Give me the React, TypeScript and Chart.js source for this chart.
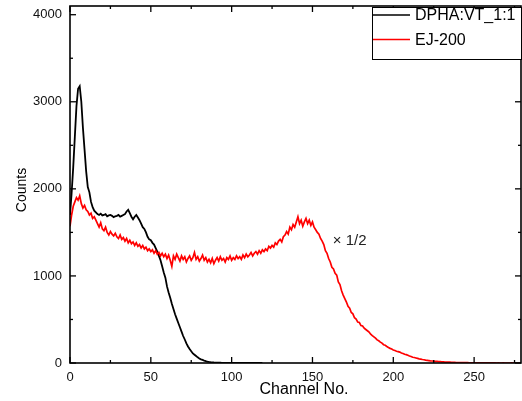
import React, { useEffect, useRef } from "react";
import { Chart, registerables } from "chart.js";

Chart.register(...registerables);

// Channel numbers (x) and counts (y)
const dphaCounts = [
  1700, 1950, 2250, 2600, 2950, 3150, 3180, 3000, 2700, 2450,
  2200, 2020, 1960, 1850, 1790, 1750, 1730, 1710, 1700, 1715,
  1695, 1700, 1710, 1685, 1695, 1700, 1690, 1675, 1685, 1690,
  1700, 1680, 1690, 1700, 1710, 1740, 1760, 1720, 1680, 1650,
  1680, 1700, 1670, 1640, 1600, 1560, 1540, 1500, 1450, 1420,
  1410, 1380, 1360, 1320, 1280, 1230, 1180, 1110, 1040, 980,
  880, 810, 750, 680, 620, 560, 510, 460, 410, 360,
  310, 270, 225, 190, 160, 135, 110, 95, 80, 65,
  52, 42, 35, 28, 22, 17, 13, 10, 8, 6,
  5, 4, 3, 3, 2, 2, 1, 1, 1, 1,
  0, 0, 0, 0, 0, 0, 0, 0, 0, 0,
  0, 0, 0, 0, 0, 0, 0, 0, 0, 0,
];

// EJ-200 counts, already scaled by 1/2
const ej200Counts = [
  1570, 1700, 1800, 1850, 1900, 1870, 1920, 1830, 1780, 1810,
  1760, 1740, 1700, 1720, 1660, 1680, 1640, 1600, 1560, 1610,
  1540, 1520, 1560, 1500, 1470, 1510, 1480, 1460, 1490, 1450,
  1430, 1470, 1420, 1440, 1400, 1430, 1380, 1410, 1370, 1390,
  1350, 1380, 1340, 1360, 1320, 1350, 1310, 1330, 1290, 1310,
  1280, 1300, 1260, 1290, 1250, 1270, 1230, 1260, 1220, 1250,
  1200, 1240, 1180, 1110, 1230, 1190, 1250, 1210, 1170, 1230,
  1190, 1220, 1160, 1200, 1230, 1180, 1210, 1270, 1190, 1220,
  1170, 1200, 1240, 1180, 1210, 1160, 1190, 1150, 1200, 1140,
  1180, 1210, 1170, 1220, 1180, 1200, 1160, 1210, 1190, 1230,
  1180, 1210, 1190, 1230, 1200, 1220, 1190, 1240, 1210, 1250,
  1220, 1240, 1270, 1230, 1260, 1280, 1250, 1290, 1260, 1300,
  1280, 1310, 1290, 1340, 1320, 1350, 1330, 1380, 1360, 1400,
  1420, 1390, 1450, 1470, 1510, 1480, 1560, 1530, 1590, 1560,
  1620, 1680, 1600, 1640, 1570, 1620, 1660, 1600, 1640, 1580,
  1620, 1560, 1530, 1500, 1480, 1430, 1400, 1360, 1290, 1260,
  1200, 1160, 1100, 1080, 1030, 1010, 930, 900, 830, 780,
  740, 700, 650, 630, 580, 565, 520, 505, 470, 465,
  430, 425, 400, 385, 370, 355, 330, 315, 300, 285,
  265, 255, 240, 228, 210, 204, 190, 178, 168, 160,
  150, 144, 135, 130, 125, 115, 110, 100, 96, 88,
  80, 74, 66, 63, 58, 53, 48, 45, 40, 37,
  33, 31, 28, 25, 23, 21, 19, 18, 16, 15,
  13, 12, 11, 10, 9, 9, 8, 7, 7, 6,
  6, 5, 5, 5, 4, 4, 4, 3, 3, 3,
  3, 2, 2, 2, 2, 2, 1, 1, 1, 1,
  1, 1, 1, 1, 0, 1, 0, 0, 1, 0,
  0, 0, 0, 1, 0, 0, 0, 0, 0, 0,
];

const xTickValues = [0, 50, 100, 150, 200, 250];
const yTickValues = [0, 1000, 2000, 3000, 4000];
const xRange = [0, 279];
const yRange = [0, 4100];
const seriesNames = ["DPHA:VT_1:1", "EJ-200"];
const seriesColors = ["#000000", "#ff0000"];
const xTitle = "Channel No.";
const yTitle = "Counts";
const noteText = "\u00d7 1/2";
const notePos = [162.6, 1407];

const FONT = "'Liberation Sans', Arial, Helvetica, sans-serif";

export default function App() {
  const ref = useRef<HTMLCanvasElement>(null);

  useEffect(() => {
    document.body.style.margin = "0";
    const canvas = ref.current;
    if (!canvas) return;

    const framePlugin = {
      id: "frame",
      afterDraw(chart: any) {
        const { ctx, chartArea: a, scales } = chart;
        const xs = scales.x;
        const ys = scales.y;
        ctx.save();
        ctx.strokeStyle = "#000";
        ctx.lineWidth = 1.6;
        ctx.strokeRect(a.left, a.top, a.right - a.left, a.bottom - a.top);

        const line = (x1: number, y1: number, x2: number, y2: number) => {
          ctx.beginPath();
          ctx.moveTo(x1, y1);
          ctx.lineTo(x2, y2);
          ctx.stroke();
        };
        ctx.lineWidth = 1.3;
        const xStep = (xTickValues[1] - xTickValues[0]) / 2;
        for (let v = xRange[0]; v <= xRange[1]; v += xStep) {
          const px = xs.getPixelForValue(v);
          const len = xTickValues.includes(v) ? 6 : 3;
          line(px, a.bottom, px, a.bottom - len);
          line(px, a.top, px, a.top + len);
        }
        const yStep = (yTickValues[1] - yTickValues[0]) / 2;
        for (let v = yRange[0]; v <= yRange[1]; v += yStep) {
          const py = ys.getPixelForValue(v);
          const len = yTickValues.includes(v) ? 6 : 3;
          line(a.left, py, a.left + len, py);
          line(a.right, py, a.right - len, py);
        }

        // legend (top-right, inside plot)
        const bw = 149;
        const bx = a.right - bw;
        const by = a.top + 1;
        const bh = 52;
        ctx.fillStyle = "#fff";
        ctx.fillRect(bx, by, bw, bh);
        ctx.lineWidth = 1;
        ctx.strokeStyle = "#000";
        ctx.strokeRect(bx + 0.5, by + 0.5, bw, bh);
        ctx.font = `16px ${FONT}`;
        ctx.textBaseline = "middle";
        ctx.textAlign = "left";
        const rows = [by + 8, by + 32.5];
        seriesNames.forEach((name, i) => {
          ctx.strokeStyle = seriesColors[i];
          ctx.lineWidth = 1.6;
          line(bx + 1, rows[i], bx + 38, rows[i]);
          ctx.fillStyle = "#000";
          ctx.fillText(name, bx + 43, rows[i] + 1);
        });

        // annotation
        ctx.font = `15px ${FONT}`;
        ctx.fillStyle = "#222";
        ctx.fillText(noteText, xs.getPixelForValue(notePos[0]), ys.getPixelForValue(notePos[1]));

        // axis titles
        ctx.font = `16px ${FONT}`;
        ctx.fillStyle = "#000";
        ctx.textAlign = "center";
        ctx.fillText(xTitle, 304, 390);
        ctx.save();
        ctx.translate(22, 190);
        ctx.rotate(-Math.PI / 2);
        ctx.font = `14px ${FONT}`;
        ctx.fillText(yTitle, 0, 0);
        ctx.restore();
        ctx.restore();
      },
    };

    const chart = new Chart(canvas, {
      type: "line",
      data: {
        datasets: [
          {
            label: seriesNames[0],
            data: dphaCounts.map((v, i) => ({ x: i, y: v })),
            borderColor: seriesColors[0],
            borderWidth: 1.8,
            pointRadius: 0,
            tension: 0,
            order: 1,
          },
          {
            label: seriesNames[1],
            data: ej200Counts.map((v, i) => ({ x: i, y: v })),
            borderColor: seriesColors[1],
            borderWidth: 1.7,
            pointRadius: 0,
            tension: 0,
            order: 0,
          },
        ],
      },
      options: {
        responsive: false,
        animation: false,
        devicePixelRatio: 1,
        layout: { padding: { top: 6, right: 1, left: 0, bottom: 0 } },
        plugins: { legend: { display: false }, tooltip: { enabled: false } },
        scales: {
          x: {
            type: "linear",
            min: xRange[0],
            max: xRange[1],
            grid: { display: false, drawTicks: false },
            border: { display: false },
            afterBuildTicks: (s: any) => {
              s.ticks = xTickValues.map((v) => ({ value: v }));
            },
            ticks: {
              maxRotation: 0,
              autoSkip: false,
              padding: 7,
              color: "#111",
              font: { family: FONT, size: 13 },
              callback: (v: any) => String(v),
            },
            afterFit: (s: any) => {
              s.height = 38;
              s.paddingLeft = 0;
              s.paddingRight = 0;
            },
          },
          y: {
            type: "linear",
            min: yRange[0],
            max: yRange[1],
            grid: { display: false, drawTicks: false },
            border: { display: false },
            afterBuildTicks: (s: any) => {
              s.ticks = yTickValues.map((v) => ({ value: v }));
            },
            ticks: {
              autoSkip: false,
              padding: 8,
              color: "#111",
              font: { family: FONT, size: 13 },
              callback: (v: any) => String(v),
            },
            afterFit: (s: any) => {
              s.width = 70;
              s.paddingTop = 0;
              s.paddingBottom = 0;
            },
          },
        },
      },
      plugins: [framePlugin],
    });
    return () => chart.destroy();
  }, []);

  return (
    <div style={{ position: "absolute", left: 0, top: 0, width: 522, height: 401 }}>
      <canvas ref={ref} width={522} height={401} style={{ display: "block", width: 522, height: 401 }} />
    </div>
  );
}
